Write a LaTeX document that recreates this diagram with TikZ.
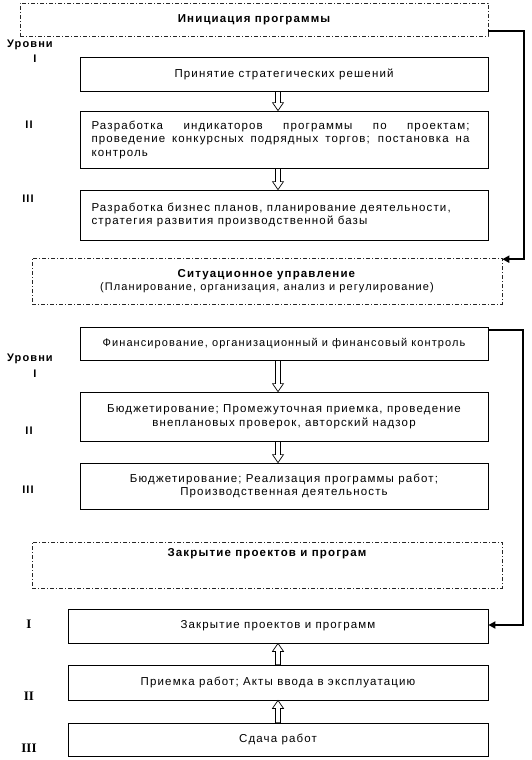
\documentclass[tikz,border=0pt]{standalone}
\usepackage{fontspec}
\setmainfont{Liberation Sans}[LetterSpace=10]
\newfontfamily\romfont{Liberation Serif}
\usetikzlibrary{calc,arrows.meta}
\begin{document}
\begin{tikzpicture}[x=1pt,y=-1pt,
  every node/.style={font=\fontsize{11.5}{13.5}\selectfont, inner sep=0pt},
  box/.style={draw, line width=0.8pt, minimum width=408pt, align=center},
  dbox/.style={draw=black!85, line width=0.6pt, dash pattern=on 4pt off 2pt on 1pt off 2pt, align=center},
  ttl/.style={font=\fontsize{11.5}{13.5}\selectfont\bfseries},
  small/.style={font=\fontsize{11}{13.5}\selectfont},
  lvl/.style={font=\fontsize{11}{12}\selectfont\bfseries},
  rlvl/.style={font=\fontsize{13}{14}\selectfont\romfont\bfseries},
  hollow/.style={draw, line width=0.7pt, fill=white, to path={
    let \p1=(\tikztostart), \p2=(\tikztotarget), \p3=($(\p2)!8pt!(\p1)$) in
    (\x1-2.5pt,\y1) -- (\x1+2.5pt,\y1) -- (\x1+2.5pt,\y3) -- (\x1+5.5pt,\y3)
    -- (\x2,\y2) -- (\x1-5.5pt,\y3) -- (\x1-2.5pt,\y3) -- cycle}},
  conn/.style={line width=2pt, -{Triangle[length=7pt,width=7pt]}}
]
\useasboundingbox[fill=white] (0,0) rectangle (532,760);
\coordinate (ax) at (278,0);

\node[dbox, ttl, minimum width=468pt, minimum height=33pt] (bA) at (254,19.5) {Инициация программы};
\node[lvl] (u1) at (30,45) {Уровни};
\node[lvl] (l1) at (35,58.5) {I};
\node[box, minimum height=34pt] (b1) at (284,74) {Принятие стратегических решений};
\node[lvl] (l2) at (29,125) {II};
\node[box, minimum height=57pt, text width=385pt, align=left] (b2) at (284,139.5)
  {\spaceskip=0pt\xspaceskip=0pt\relax
   \makebox[378pt][s]{Разработка индикаторов программы по проектам;}\\
   \makebox[378pt][s]{проведение конкурсных подрядных торгов; постановка на}\\
   контроль};
\node[lvl] (l3) at (28,199) {III};
\node[box, minimum height=50pt, text width=385pt, align=left] (b3) at (284,215)
  {\spaceskip=0pt\xspaceskip=0pt\relax
   Разработка бизнес планов, планирование деятельности,\\
   стратегия развития производственной базы};

\node[dbox, small, minimum width=470pt, minimum height=46pt] (bB) at (267,281)
  {\textbf{\fontsize{11.5}{13.5}\selectfont Ситуационное управление}\\(Планирование, организация, анализ и регулирование)};

\node[box, small, minimum height=33pt] (b4) at (284,343.5) {Финансирование, организационный и финансовый контроль};
\node[lvl] (u2) at (30,359) {Уровни};
\node[lvl] (l4) at (35,374) {I};
\node[box, minimum height=49pt] (b5) at (284,416.5)
  {Бюджетирование; Промежуточная приемка, проведение\\внеплановых проверок, авторский надзор};
\node[lvl] (l5) at (29,430.5) {II};
\node[box, minimum height=46pt] (b6) at (284,486)
  {Бюджетирование; Реализация программы работ;\\Производственная деятельность};
\node[lvl] (l6) at (28,490) {III};

\node[dbox, minimum width=470pt, minimum height=46pt] (bC) at (267,565) {};
\node[ttl] (tC) at (267,554) {Закрытие проектов и програм};

\node[box, minimum width=420pt, minimum height=34pt] (b7) at (278,626) {Закрытие проектов и программ};
\node[rlvl] (r1) at (29,624) {I};
\node[box, minimum width=420pt, minimum height=35pt] (b8) at (278,682.5) {Приемка работ; Акты ввода в эксплуатацию};
\node[rlvl] (r2) at (29,696) {II};
\node[box, minimum width=420pt, minimum height=33pt] (b9) at (278,739.5) {Сдача работ};
\node[rlvl] (r3) at (29,748.6) {III};

\draw[hollow] (b1.south -| ax) to (b2.north -| ax);
\draw[hollow] (b2.south -| ax) to (b3.north -| ax);
\draw[hollow] (b4.south -| ax) to (b5.north -| ax);
\draw[hollow] (b5.south -| ax) to (b6.north -| ax);
\draw[hollow] (b8.north -| ax) to (b7.south -| ax);
\draw[hollow] (b9.north -| ax) to (b8.south -| ax);

\draw[conn] ([yshift=-11.5pt]bA.east) -- ++(36,0) |- ([yshift=-1.5pt]bB.north east);
\draw[conn] ([yshift=14pt]b4.east) -- ++(35,0) |- ([yshift=1pt]b7.east);
\end{tikzpicture}
\end{document}
